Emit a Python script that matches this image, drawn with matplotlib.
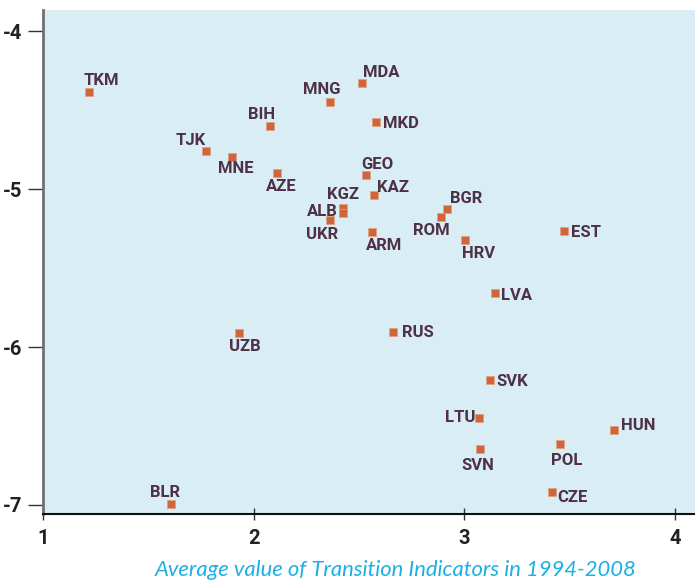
import matplotlib
matplotlib.use("Agg")
import matplotlib.pyplot as plt
from matplotlib import font_manager

countries = ["TKM", "MNG", "MDA", "BIH", "MKD", "TJK", "MNE", "AZE", "GEO", "KAZ",
             "KGZ", "ALB", "UKR", "BGR", "ROM", "ARM", "HRV", "EST", "LVA", "RUS",
             "UZB", "SVK", "LTU", "HUN", "SVN", "POL", "CZE", "BLR"]
x_vals = [1.218, 2.362, 2.514, 2.077, 2.580, 1.774, 1.897, 2.111, 2.533, 2.571,
          2.424, 2.424, 2.362, 2.917, 2.889, 2.561, 3.003, 3.473, 3.145, 2.661,
          1.930, 3.121, 3.069, 3.710, 3.074, 3.454, 3.416, 1.607]
y_vals = [-4.386, -4.449, -4.329, -4.601, -4.576, -4.759, -4.797, -4.899, -4.911, -5.038,
          -5.120, -5.152, -5.196, -5.127, -5.177, -5.272, -5.323, -5.266, -5.658, -5.905,
          -5.911, -6.209, -6.449, -6.525, -6.646, -6.614, -6.918, -6.994]
# label offsets in pixels (dx right, dy down)
label_offsets = {
    "TKM": (12, -12), "MNG": (-8, -13), "MDA": (19, -11), "BIH": (-8, -12),
    "MKD": (25, 0), "TJK": (-15, -11), "MNE": (4, 11), "AZE": (4, 12),
    "GEO": (11, -11), "KAZ": (19, -9), "KGZ": (0, -14), "ALB": (-21, -3),
    "UKR": (-8, 14), "BGR": (19, -12), "ROM": (-10, 13), "ARM": (12, 13),
    "HRV": (14, 12), "EST": (22, 0), "LVA": (22, 2), "RUS": (25, 0),
    "UZB": (6, 13), "SVK": (22, 0), "LTU": (-19, -1), "HUN": (24, -5),
    "SVN": (-2, 15), "POL": (7, 15), "CZE": (20, 4), "BLR": (-6, -13),
}
x_ticks = [1, 2, 3, 4]
y_ticks = [-4, -5, -6, -7]
x_label = "Average value of Transition Indicators in 1994-2008"

names = {f.name for f in font_manager.fontManager.ttflist}
label_font = "Liberation Sans Narrow" if "Liberation Sans Narrow" in names else "Roboto"

W, H = 695, 581
fig = plt.figure(figsize=(W / 100, H / 100), dpi=100)
ax = fig.add_axes([43 / W, (H - 514) / H, (W - 43) / W, (514 - 10) / H])
ax.set_facecolor("#d8eef4")
ax.set_xlim(1.0, 4.095)
ax.set_ylim(-7.057, -3.867)

ax.scatter(x_vals, y_vals, marker="s", s=34, color="#d0643a",
           edgecolors="#e0a080", linewidths=0.5, zorder=3)

text_color = "#4e3147"
for name, xv, yv in zip(countries, x_vals, y_vals):
    dx, dy = label_offsets[name]
    ax.annotate(name, (xv, yv), xytext=(dx, -(dy + 1)), textcoords="offset pixels",
                ha="center", va="center", fontsize=12, fontweight="bold",
                color=text_color, family=label_font, zorder=4)

for s in ["top", "right"]:
    ax.spines[s].set_visible(False)
ax.spines["left"].set_color("#707070")
ax.spines["left"].set_linewidth(2)
ax.spines["bottom"].set_color("#111111")
ax.spines["bottom"].set_linewidth(1.5)

ax.set_xticks(x_ticks)
ax.set_yticks(y_ticks)
ax.set_xticklabels([str(v) for v in x_ticks])
ax.set_yticklabels([str(v) for v in y_ticks])
ax.tick_params(axis="y", direction="out", length=11, width=1, color="#333333",
               pad=4, labelsize=14.5, labelcolor="#222222")
ax.tick_params(axis="x", direction="inout", length=9, width=1, color="#333333",
               pad=6, labelsize=14.5, labelcolor="#222222")
for lab in ax.get_xticklabels() + ax.get_yticklabels():
    lab.set_family("Roboto")
    lab.set_fontweight("bold")

fig.text(396 / W, 1 - 570 / H, x_label, ha="center", va="center",
         fontsize=15.8, style="italic", color="#1ab0e6", family="Lato")

fig.savefig("out.png", dpi=100)
